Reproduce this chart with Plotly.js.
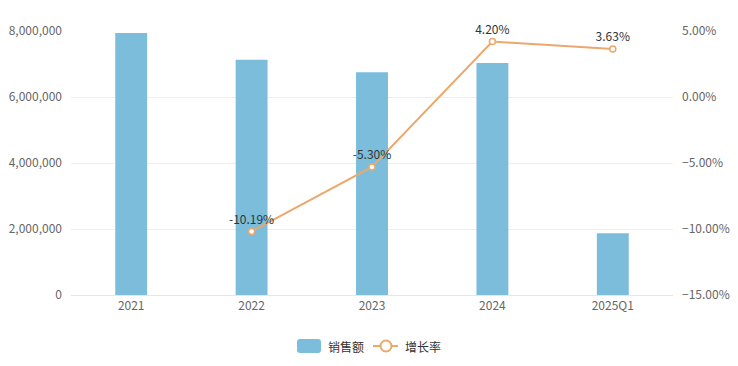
<!DOCTYPE html>
<html><head><meta charset="utf-8">
<script src="https://cdn.plot.ly/plotly-3.0.1.min.js"></script>
<style>html,body{margin:0;padding:0;background:#fff}#c{width:738px;height:366px}</style>
</head><body><div id="c"></div>
<script>
const categories = ['2021','2022','2023','2024','2025Q1'];
const sales = [7940000, 7130000, 6750000, 7030000, 1870000];
const growthX = ['2022','2023','2024','2025Q1'];
const growth = [-10.19, -5.30, 4.20, 3.63];
const growthLabels = ['-10.19%','-5.30%','4.20%','3.63%'];
const seriesNames = ['销售额','增长率'];
const barColor = '#7bbddb', lineColor = '#eba86c';
const font = '"Microsoft YaHei","Noto Sans CJK SC","Noto Sans",sans-serif';
const traces = [
  {type:'bar', name:seriesNames[0], x:categories, y:sales, marker:{color:barColor}, width:0.265, yaxis:'y', hoverinfo:'none'},
  {type:'scatter', mode:'lines+markers+text', name:seriesNames[1], x:growthX, y:growth, yaxis:'y2',
   line:{color:lineColor, width:2}, marker:{symbol:'circle', size:6, color:'#fff', line:{color:lineColor, width:1.5}},
   text:growthLabels, textposition:'top center', textfont:{color:'#333', size:12, family:font}, hoverinfo:'none', cliponaxis:false}
];
// custom legend (pixel -> paper conversion)
const W=738,H=366,ml=71,mr=65,mt=31,mb=71, pw=W-ml-mr, ph=H-mt-mb;
const px = x => (x-ml)/pw, py = y => (H-mb-y)/ph;
function rrect(x0,y0,x1,y1,r){
  return `M${px(x0+r)},${py(y0)} L${px(x1-r)},${py(y0)} Q${px(x1)},${py(y0)} ${px(x1)},${py(y0+r)} L${px(x1)},${py(y1-r)} Q${px(x1)},${py(y1)} ${px(x1-r)},${py(y1)} L${px(x0+r)},${py(y1)} Q${px(x0)},${py(y1)} ${px(x0)},${py(y1-r)} L${px(x0)},${py(y0+r)} Q${px(x0)},${py(y0)} ${px(x0+r)},${py(y0)} Z`;
}
const shapes = [
  {type:'path', xref:'paper', yref:'paper', path:rrect(297,339,321,353,3), fillcolor:barColor, line:{width:0}},
  {type:'line', xref:'paper', yref:'paper', x0:px(373), x1:px(398), y0:py(346), y1:py(346), line:{color:lineColor, width:2}},
  {type:'circle', xref:'paper', yref:'paper', x0:px(380.5), x1:px(391.5), y0:py(340.5), y1:py(351.5), fillcolor:'#fff', line:{color:lineColor, width:2}}
];
const annotations = [
  {xref:'paper', yref:'paper', x:px(326), y:py(346), xanchor:'left', yanchor:'middle', text:seriesNames[0], showarrow:false, font:{size:12, color:'#333', family:font}},
  {xref:'paper', yref:'paper', x:px(403), y:py(346), xanchor:'left', yanchor:'middle', text:seriesNames[1], showarrow:false, font:{size:12, color:'#333', family:font}}
];
const layout = {
  width:W, height:H, margin:{l:ml, r:mr, t:mt, b:mb, autoexpand:false},
  paper_bgcolor:'#fff', plot_bgcolor:'#fff', font:{family:font, size:12, color:'#666'},
  showlegend:false, shapes, annotations,
  xaxis:{type:'category', showgrid:false, showline:true, linecolor:'#e6e6e6', ticks:'', tickfont:{color:'#666', size:12}},
  yaxis:{range:[0,8000000], dtick:2000000, tickformat:',d', gridcolor:'#eeeeee', zeroline:false, showline:false, ticks:'', ticklabelstandoff:8, tickfont:{color:'#666', size:12}},
  yaxis2:{overlaying:'y', side:'right', range:[-15,5], dtick:5, tickformat:'.2f', ticksuffix:'%', showgrid:false, zeroline:false, showline:false, ticks:'', ticklabelstandoff:8, tickfont:{color:'#666', size:12}},
  bargap:0.5
};
Plotly.newPlot('c', traces, layout, {displayModeBar:false, staticPlot:true});
</script></body></html>
